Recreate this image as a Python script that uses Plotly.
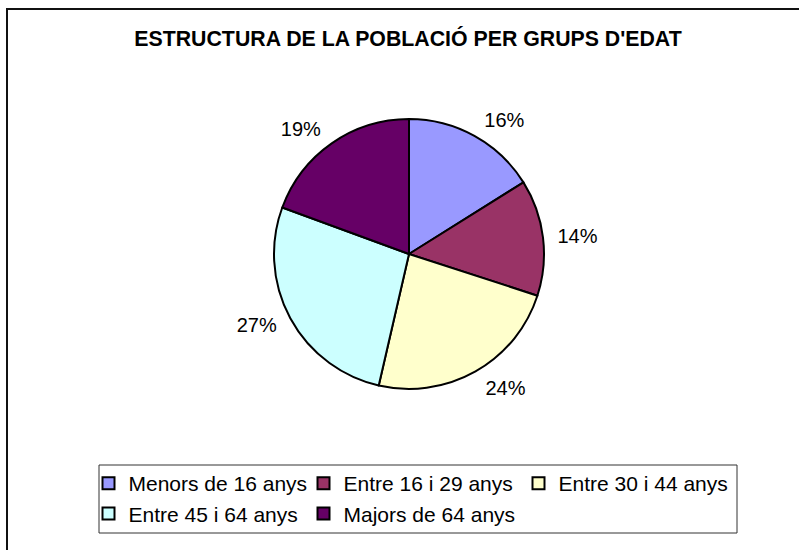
import plotly.graph_objects as go

categories = ["Menors de 16 anys", "Entre 16 i 29 anys", "Entre 30 i 44 anys",
              "Entre 45 i 64 anys", "Majors de 64 anys"]
values = [16.1, 13.9, 23.6, 27.0, 19.4]
colors = ["#9999FF", "#993366", "#FFFFCC", "#CCFFFF", "#660066"]
title_text = "ESTRUCTURA DE LA POBLACIÓ PER GRUPS D'EDAT"

W, H = 799, 550
FONT = "Liberation Sans, Arial, sans-serif"

cx, cy, r = 409, 254, 135
r_lab = 144  # radius of the transparent pie that carries the percentage labels


def dom(rad):
    return dict(x=[(cx - rad) / W, (cx + rad) / W],
                y=[(H - cy - rad) / H, (H - cy + rad) / H])


fig = go.Figure()
fig.add_trace(go.Pie(
    labels=categories,
    values=values,
    sort=False,
    direction="clockwise",
    rotation=0,
    marker=dict(colors=colors, line=dict(color="black", width=2)),
    textinfo="none",
    domain=dom(r),
    hoverinfo="label+percent",
))
fig.add_trace(go.Pie(
    labels=categories,
    values=values,
    sort=False,
    direction="clockwise",
    rotation=0,
    marker=dict(colors=["rgba(0,0,0,0)"] * len(values), line=dict(width=0)),
    texttemplate="%{percent:.0%}",
    textposition="outside",
    outsidetextfont=dict(family=FONT, size=20, color="black"),
    domain=dom(r_lab),
    showlegend=False,
    hoverinfo="skip",
))

fig.update_layout(
    width=W, height=H,
    margin=dict(l=0, r=0, t=0, b=0),
    paper_bgcolor="white",
    plot_bgcolor="white",
    title=dict(text="<b>" + title_text + "</b>", x=408 / W, y=1 - 39 / H,
               xanchor="center", yanchor="middle",
               font=dict(family=FONT, size=21.3, color="black")),
    legend=dict(orientation="h", x=88.5 / W, y=1 - 463 / H, xanchor="left", yanchor="top",
                borderwidth=0, bgcolor="rgba(0,0,0,0)",
                font=dict(family=FONT, size=21, color="black"),
                entrywidth=170, traceorder="normal"),
    shapes=[
        dict(type="rect", xref="paper", yref="paper",
             x0=7 / W, x1=1.05, y0=-0.05, y1=1 - 9 / H,
             line=dict(color="#111111", width=2)),
        dict(type="rect", xref="paper", yref="paper",
             x0=99 / W, x1=737 / W, y0=1 - 533 / H, y1=1 - 465 / H,
             line=dict(color="#333333", width=1), fillcolor="white", layer="below"),
    ],
    showlegend=True,
)

fig.write_html("out.html")
